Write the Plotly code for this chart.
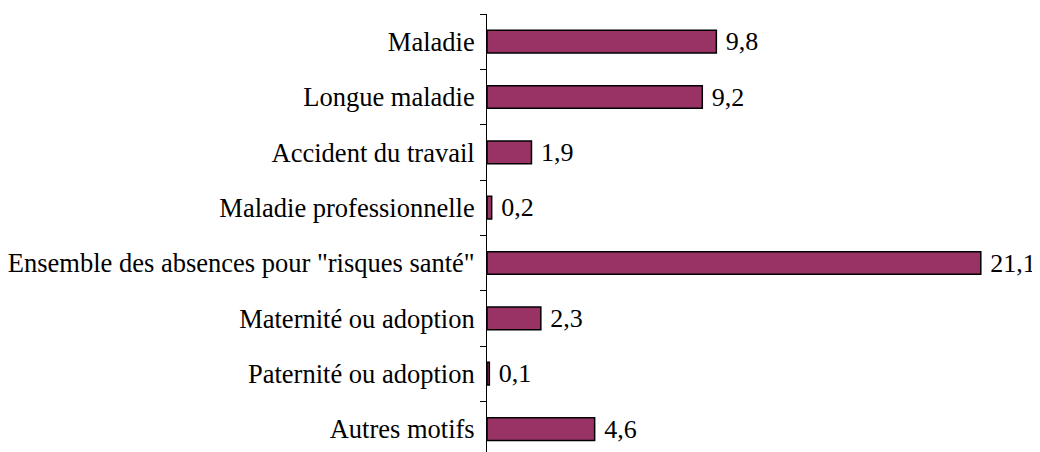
import plotly.graph_objects as go

categories = [
    "Maladie",
    "Longue maladie",
    "Accident du travail",
    "Maladie professionnelle",
    "Ensemble des absences pour \"risques santé\"",
    "Maternité ou adoption",
    "Paternité ou adoption",
    "Autres motifs",
]
values = [9.8, 9.2, 1.9, 0.2, 21.1, 2.3, 0.1, 4.6]

fig = go.Figure(
    go.Bar(
        x=values,
        y=categories,
        orientation="h",
        width=0.41,
        marker=dict(color="#993366", line=dict(color="black", width=1.5)),
        texttemplate=" %{x:.1f}",
        textposition="outside",
        textfont=dict(family="Liberation Serif", size=26, color="black"),
        constraintext="none",
        cliponaxis=False,
    )
)

fig.update_layout(
    width=1032,
    height=444,
    margin=dict(l=479, r=0, t=6, b=0),
    paper_bgcolor="white",
    plot_bgcolor="white",
    separators=", ",
    showlegend=False,
    font=dict(family="Liberation Serif", size=26, color="black"),
    xaxis=dict(
        range=[0, 23.63],
        visible=False,
        showgrid=False,
        zeroline=False,
        automargin=False,
    ),
    yaxis=dict(
        type="category",
        categoryorder="array",
        categoryarray=categories,
        range=[7.415, -0.5],
        showline=True,
        linecolor="black",
        linewidth=1,
        ticks="outside",
        tickson="boundaries",
        ticklen=6,
        tickcolor="black",
        ticklabelstandoff=6,
        showgrid=False,
        zeroline=False,
        automargin=False,
        tickfont=dict(family="Liberation Serif", size=26.5, color="black"),
    ),
)

fig.write_html("out.html")
